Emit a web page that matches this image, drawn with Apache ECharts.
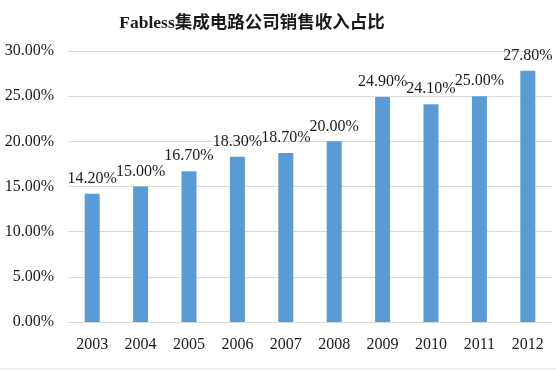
<!DOCTYPE html>
<html><head><meta charset="utf-8">
<script src="https://cdn.jsdelivr.net/npm/echarts@6/dist/echarts.min.js"></script>
<style>html,body{margin:0;padding:0;background:#fff}#c{width:556px;height:372px}</style>
</head><body><div id="c"></div>
<script>
const titleText = 'Fabless集成电路公司销售收入占比';
const years = ['2003','2004','2005','2006','2007','2008','2009','2010','2011','2012'];
const shares = [14.2, 15.0, 16.7, 18.3, 18.7, 20.0, 24.9, 24.1, 25.0, 27.8];

const serif = '"Liberation Serif", "Times New Roman", serif';
const chart = echarts.init(document.getElementById('c'), null, {renderer: 'canvas'});
chart.setOption({
  animation: false,
  title: {
    text: titleText, left: 247, top: 10, textAlign: 'center',
    textStyle: {fontFamily: serif + ', "Noto Sans CJK SC"', fontWeight: 'bold', fontSize: 17.5, color: '#1a1a1a'}
  },
  grid: {left: 68, right: 4, top: 51, bottom: 50, containLabel: false},
  xAxis: {
    type: 'category', data: years,
    axisLine: {lineStyle: {color: '#d9d9d9', width: 1}},
    axisTick: {show: false},
    axisLabel: {fontFamily: serif, fontSize: 16, color: '#1a1a1a', margin: 15}
  },
  yAxis: {
    type: 'value', min: 0, max: 30, interval: 5,
    axisLine: {show: false}, axisTick: {show: false},
    splitLine: {lineStyle: {color: '#d9d9d9', width: 1}},
    axisLabel: {fontFamily: serif, fontSize: 16, color: '#1a1a1a', margin: 14,
      formatter: v => v.toFixed(2) + '%'}
  },
  series: [{
    type: 'bar', data: shares, barWidth: 15,
    itemStyle: {color: '#5b9bd5'},
    label: {show: true, position: 'top', distance: 7, fontFamily: serif, fontSize: 16, color: '#1a1a1a',
      formatter: p => p.value.toFixed(2) + '%'}
  }],
  graphic: [{type: 'line', shape: {x1: 0, y1: 369, x2: 556, y2: 369}, style: {stroke: '#d9d9d9', lineWidth: 1}}]
});
</script></body></html>
